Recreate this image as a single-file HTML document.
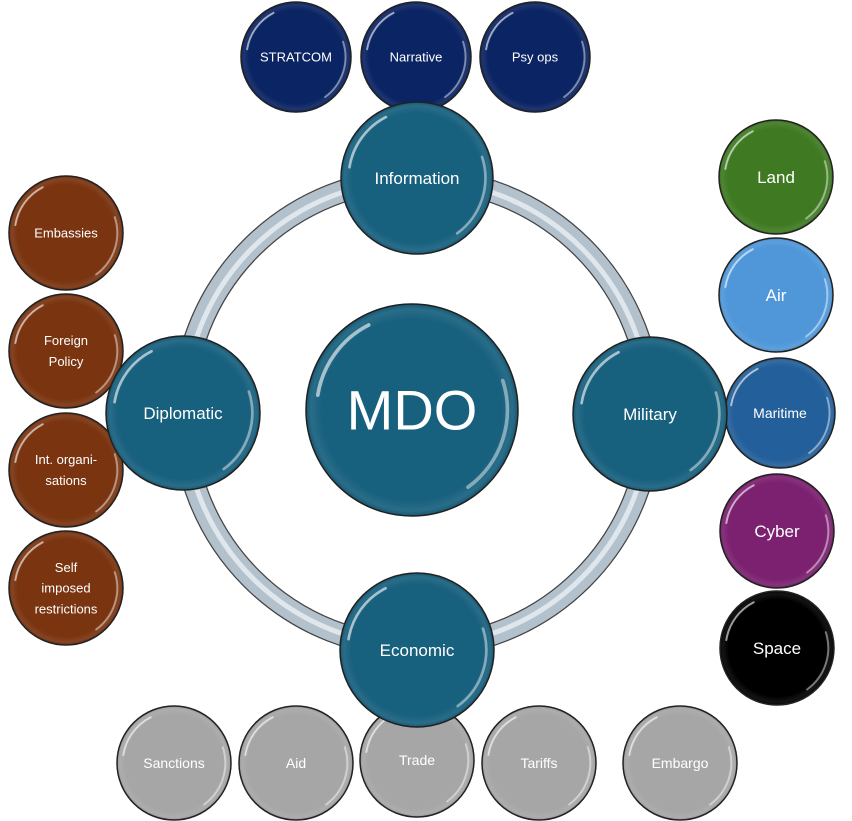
<!DOCTYPE html>
<html><head><meta charset="utf-8"><style>
html,body{margin:0;padding:0;background:#fff;}
svg{display:block;}
text{font-family:"Liberation Sans",sans-serif;fill:#fff;text-anchor:middle;}
</style></head><body>
<svg width="852" height="821" viewBox="0 0 852 821" xmlns="http://www.w3.org/2000/svg">
<defs>
<radialGradient id="sh" cx="50%" cy="50%" r="50%">
<stop offset="0.85" stop-color="#fff" stop-opacity="0"/>
<stop offset="0.95" stop-color="#fff" stop-opacity="0.08"/>
<stop offset="1" stop-color="#000" stop-opacity="0.12"/>
</radialGradient>
</defs>
<circle cx="417" cy="413" r="234" fill="none" stroke="#444" stroke-width="23"/>
<circle cx="417" cy="413" r="234" fill="none" stroke="#b3c1cc" stroke-width="20.5"/>
<circle cx="417" cy="413" r="233" fill="none" stroke="#dfe7ed" stroke-width="5"/>
<script>
const data=[
[296,57,55,"#0b2463",["STRATCOM"],13],
[416,57,55,"#0b2463",["Narrative"],13],
[535,57,55,"#0b2463",["Psy ops"],13],
[66,233,57,"#7a3410",["Embassies"],13],
[66,351,57,"#7a3410",["Foreign","Policy"],13],
[66,470,57,"#7a3410",["Int. organi-","sations"],13],
[66,588,57,"#7a3410",["Self","imposed","restrictions"],13],
[776,177,57,"#3f7a22",["Land"],17],
[776,295,57,"#4f97d9",["Air"],17],
[780,413,55,"#235f9a",["Maritime"],14],
[777,531,57,"#7b2170",["Cyber"],17],
[777,648,57,"#000000",["Space"],17],
[174,763,57,"#a6a6a6",["Sanctions"],14],
[296,763,57,"#a6a6a6",["Aid"],14],
[417,760,57,"#a6a6a6",["Trade"],14],
[539,763,57,"#a6a6a6",["Tariffs"],14],
[680,763,57,"#a6a6a6",["Embargo"],14],
[417,178,76,"#17607e",["Information"],17],
[183,413,77,"#17607e",["Diplomatic"],17],
[650,414,77,"#17607e",["Military"],17],
[417,650,77,"#17607e",["Economic"],17],
[412,410,106,"#17607e",["MDO"],56]
];
const ns="http://www.w3.org/2000/svg";
const svg=document.querySelector("svg");
for(const [x,y,r,c,lines,fs] of data){
 const g=document.createElementNS(ns,"g");
 const ci=document.createElementNS(ns,"circle");
 ci.setAttribute("cx",x);ci.setAttribute("cy",y);ci.setAttribute("r",r);
 ci.setAttribute("fill",c);ci.setAttribute("stroke","#222");ci.setAttribute("stroke-width","1.5");
 g.appendChild(ci);
 const s=document.createElementNS(ns,"circle");
 s.setAttribute("cx",x);s.setAttribute("cy",y);s.setAttribute("r",r);s.setAttribute("fill","url(#sh)");
 g.appendChild(s);
 const rr=r*0.9;
 const arc=(a1,a2,w,op)=>{const p=document.createElementNS(ns,"path");
  const p1=[x+rr*Math.cos(a1),y+rr*Math.sin(a1)],p2=[x+rr*Math.cos(a2),y+rr*Math.sin(a2)];
  p.setAttribute("d",`M${p1[0]} ${p1[1]} A${rr} ${rr} 0 0 1 ${p2[0]} ${p2[1]}`);
  p.setAttribute("fill","none");p.setAttribute("stroke","#fff");p.setAttribute("stroke-width",w);
  p.setAttribute("stroke-opacity",op);p.setAttribute("stroke-linecap","round");g.appendChild(p);};
 arc(Math.PI*1.05,Math.PI*1.35,r*0.035,0.6);
 arc(-Math.PI*0.1,Math.PI*0.3,r*0.035,0.45);
 const lh=fs*1.6, y0=y-(lines.length-1)*lh/2+fs*0.35;
 lines.forEach((l,i)=>{const t=document.createElementNS(ns,"text");
  t.setAttribute("x",x);t.setAttribute("y",y0+i*lh);t.setAttribute("font-size",fs);t.textContent=l;g.appendChild(t);});
 svg.appendChild(g);
}
</script>
</svg>
</body></html>
